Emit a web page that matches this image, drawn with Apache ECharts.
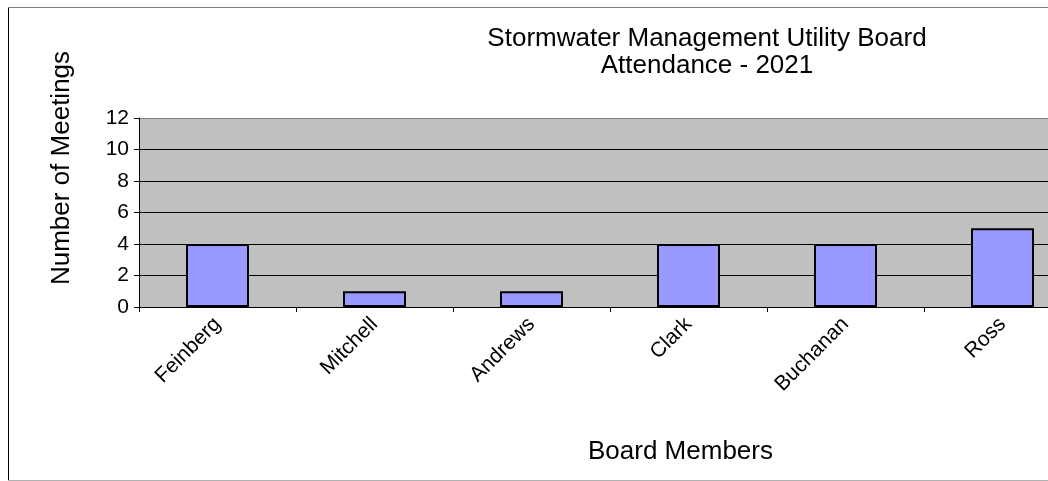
<!DOCTYPE html>
<html>
<head>
<meta charset="utf-8">
<script src="https://cdn.jsdelivr.net/npm/echarts@6/dist/echarts.min.js"></script>
<style>
html,body{margin:0;padding:0;background:#fff;}
#c{width:1048px;height:481px;}
</style>
</head>
<body>
<div id="c"></div>
<script>
const categories = ['Feinberg', 'Mitchell', 'Andrews', 'Clark', 'Buchanan', 'Ross'];
const meetings = [4, 1, 1, 4, 4, 5];
const yTicks = { min: 0, max: 12, interval: 2 };

const chart = echarts.init(document.getElementById('c'), null, { renderer: 'canvas' });
const font = '"Liberation Sans", Arial, sans-serif';
chart.setOption({
  animation: false,
  backgroundColor: '#fff',
  title: {
    text: 'Stormwater Management Utility Board\nAttendance - 2021',
    left: 702, top: 20, textAlign: 'center',
    textStyle: { fontFamily: font, fontSize: 26, fontWeight: 'normal', color: '#000', lineHeight: 27 }
  },
  grid: { left: 139, top: 118, width: 942, height: 189, show: true, backgroundColor: '#c0c0c0', borderWidth: 0, containLabel: false, outerBoundsMode: 'none' },
  xAxis: {
    type: 'category', data: categories,
    axisLine: { lineStyle: { color: '#000', width: 1 } },
    axisTick: { show: true, alignWithLabel: false, length: 5, lineStyle: { color: '#000' } },
    axisLabel: { interval: 0, rotate: 45, margin: 14, fontFamily: font, fontSize: 21, color: '#000' }
  },
  yAxis: {
    type: 'value', min: yTicks.min, max: yTicks.max, interval: yTicks.interval,
    axisLine: { show: true, lineStyle: { color: '#000', width: 1 } },
    axisTick: { show: true, length: 5, lineStyle: { color: '#000' } },
    axisLabel: { margin: 10, fontFamily: font, fontSize: 21, color: '#000' },
    splitLine: { show: true, lineStyle: { color: ['#000','#000','#000','#000','#000','#000','#808080'], width: 1 } }
  },
  series: [{
    type: 'bar', data: meetings, barWidth: 63,
    itemStyle: { color: '#9999ff', borderColor: '#000', borderWidth: 2 }
  }],
  graphic: [
    { type: 'text', left: 588, top: 439, style: { text: 'Board Members', font: '26px ' + font, fill: '#000' } },
    { type: 'text', x: 62, y: 168, rotation: Math.PI / 2, style: { text: 'Number of Meetings', font: '26px ' + font, fill: '#000', align: 'center', verticalAlign: 'middle' } },
    { type: 'line', shape: { x1: 8.5, y1: 7, x2: 8.5, y2: 481 }, style: { stroke: '#000', lineWidth: 1 } },
    { type: 'line', shape: { x1: 8, y1: 7.5, x2: 1048, y2: 7.5 }, style: { stroke: '#808080', lineWidth: 1 } },
    { type: 'line', shape: { x1: 8, y1: 480.5, x2: 1048, y2: 480.5 }, style: { stroke: '#b0b0b0', lineWidth: 1 } }
  ]
});
</script>
</body>
</html>
